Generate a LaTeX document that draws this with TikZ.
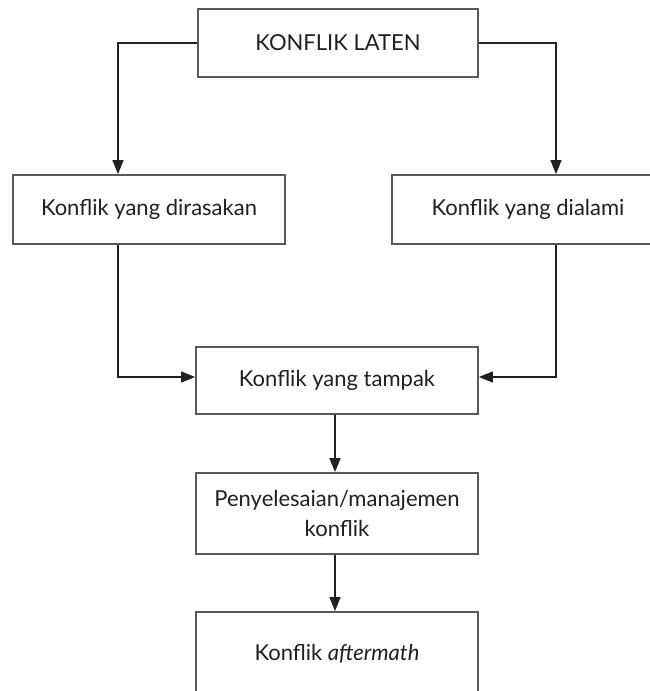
\documentclass[tikz,border=0pt]{standalone}
\usepackage{fontspec}
\setmainfont{Lato}
\usetikzlibrary{arrows.meta}
\definecolor{ink}{HTML}{231F20}
\definecolor{frame}{HTML}{58595B}
\tikzset{
  stagebox/.style={draw=frame, line width=1.8pt, rectangle, align=center,
    text=ink, font=\fontsize{22}{30}\selectfont, inner sep=0pt},
  flow/.style={draw=ink, line width=1.2pt, -{Triangle[length=14pt,width=11pt]}}
}
\begin{document}
\begin{tikzpicture}[x=1pt,y=-1pt]
  \useasboundingbox (0,0) rectangle (650,691);
  \clip (0,0) rectangle (650,691);
  \fill[white] (0,0) rectangle (650,691);

  % stages of a conflict
  \node[stagebox, minimum width=280pt, minimum height=68pt] (laten) at (338,43) {KONFLIK LATEN};
  \node[stagebox, minimum width=272pt, minimum height=69pt] (rasa) at (149,209.5) {Konflik yang dirasakan};
  \node[stagebox, minimum width=272pt, minimum height=69pt] (alami) at (528,209.5) {Konflik yang dialami};
  \node[stagebox, minimum width=282pt, minimum height=67pt] (tampak) at (337,380.5) {Konflik yang tampak};
  \node[stagebox, minimum width=282pt, minimum height=81pt] (kelola) at (337,513.5) {Penyelesaian/manajemen\\konflik};
  \node[stagebox, minimum width=282pt, minimum height=84pt] (akhir) at (337,654) {Konflik \textit{aftermath}};

  % branch points of the side paths
  \coordinate (lx) at ([xshift=-31pt]rasa.north);
  \coordinate (rx) at ([xshift=28pt]alami.north);

  % latent conflict splits into two branches
  \draw[flow] (laten.west) -| (lx);
  \draw[flow] (laten.east) -| (rx);

  % both branches meet in the manifest conflict
  \draw[flow] (lx |- rasa.south) |- ([yshift=3.5pt]tampak.west);
  \draw[flow] (rx |- alami.south) |- ([yshift=3.5pt]tampak.east);

  % main line downwards
  \draw[flow] ([xshift=-2pt]tampak.south) -- ([xshift=-2pt]tampak.south |- kelola.north);
  \draw[flow] ([xshift=-2pt]kelola.south) -- ([xshift=-2pt]kelola.south |- akhir.north);
\end{tikzpicture}
\end{document}
